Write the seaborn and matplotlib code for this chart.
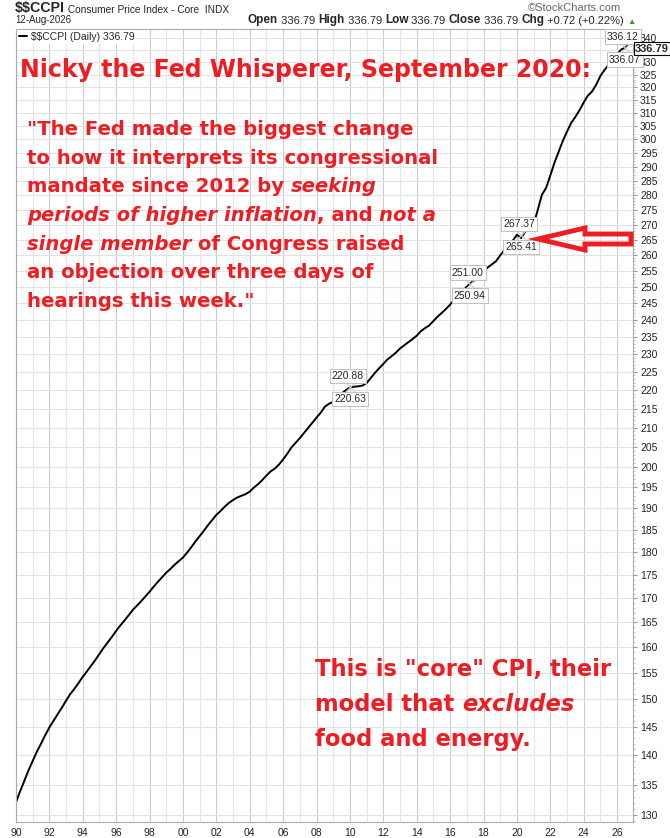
import matplotlib
matplotlib.use("Agg")
import pandas as pd
import numpy as np
import matplotlib.pyplot as plt
import matplotlib.dates as mdates
import seaborn as sns
from matplotlib.patches import Polygon
from matplotlib.ticker import FixedLocator, FuncFormatter, NullFormatter

# quarterly core CPI readings (Jan, Apr, Jul, Oct)
core_cpi = [
    132.1, 133.9, 135.6, 137.4,  # 1990
    139.0, 140.6, 142.0, 143.5,
    144.9, 146.1, 147.3, 148.5,
    149.8, 151.0, 152.0, 153.1,
    154.3, 155.3, 156.4, 157.5,
    158.7, 159.9, 161.0, 162.1,  # 1995
    163.3, 164.4, 165.4, 166.5,
    167.6, 168.5, 169.4, 170.4,
    171.4, 172.5, 173.5, 174.5,
    175.5, 176.3, 177.2, 178.0,
    178.8, 179.9, 181.1, 182.4,  # 2000
    183.6, 184.8, 186.1, 187.3,
    188.5, 189.4, 190.4, 191.3,
    192.0, 192.6, 193.0, 193.4,
    194.0, 195.0, 195.8, 196.8,
    197.9, 198.9, 199.6, 200.6,  # 2005
    201.9, 203.3, 204.9, 206.1,
    207.3, 208.6, 209.9, 211.3,
    212.6, 213.9, 215.5, 216.3,
    216.8, 217.8, 219.0, 219.9,
    220.7, 220.9, 221.0, 221.2,  # 2010
    221.9, 223.3, 224.7, 226.0,
    227.2, 228.5, 229.4, 230.4,
    231.6, 232.5, 233.4, 234.3,
    235.3, 236.6, 237.5, 238.3,
    239.6, 240.9, 242.0, 243.2,  # 2015
    244.5, 246.0, 247.4, 248.6,
    250.0, 251.2, 252.1, 253.2,
    254.6, 256.0, 257.0, 258.0,
    259.9, 261.6, 263.1, 264.6,
    266.6, 265.5, 267.6, 268.8,  # 2020
    270.0, 274.9, 280.1, 282.5,
    286.9, 291.4, 295.3, 299.4,
    302.9, 306.1, 308.4, 311.0,
    314.0, 316.7, 318.3, 321.0,
    324.5, 326.9, 329.0, 331.0,  # 2025
    333.3, 335.3, 336.07,
]
quarter_dates = pd.date_range("1990-01-01", "2026-07-01", freq="QS")
last_date = pd.Timestamp("2026-08-12")
last_close = 336.79

# swing high / low labels
hilo_dates = pd.to_datetime(["2010-01-01", "2017-03-01", "2020-04-01", "2026-06-20"])
hilo_high = [220.88, 251.00, 267.37, 336.12]
hilo_low = [220.63, 250.94, 265.41, 336.07]

y_ticks = np.arange(130, 345, 5)

title = "Nicky the Fed Whisperer, September 2020:"
quote_lines = [
    [('"The Fed made the biggest change', "normal")],
    [("to how it interprets its congressional", "normal")],
    [("mandate since 2012 by ", "normal"), ("seeking", "italic")],
    [("periods of higher inflation", "italic"), (", and ", "normal"), ("not a", "italic")],
    [("single member", "italic"), (" of Congress raised", "normal")],
    [("an objection over three days of", "normal")],
    [('hearings this week."', "normal")],
]
note_lines = [
    [('This is "core" CPI, their', "normal")],
    [("model that ", "normal"), ("excludes", "italic")],
    [("food and energy.", "normal")],
]

RED = "#ee1d24"
sns.set_style("white")
plt.rcParams["font.family"] = ["Liberation Sans", "DejaVu Sans"]

W, H = 670, 838
fig = plt.figure(figsize=(6.7, 8.38), dpi=100)


def fx(px):
    return px / W


def fy(py):
    return 1 - py / H


ax = fig.add_axes([fx(16), fy(822), fx(633) - fx(16), fy(29) - fy(822)])

df = pd.DataFrame({"date": list(quarter_dates) + [last_date],
                   "value": core_cpi + [last_close]})
sns.lineplot(data=df, x="date", y="value", ax=ax, color="black", lw=1.4,
             label="\\$\\$CCPI (Daily) 336.79")

ax.set_yscale("log")
ax.set_ylim(128.9, 343.9)
ax.set_xlim(pd.Timestamp("1990-01-01"), pd.Timestamp("2026-12-15"))
ax.set_xlabel("")
ax.set_ylabel("")

ax.yaxis.tick_right()
ax.yaxis.set_major_locator(FixedLocator(y_ticks))
# the 335 label sits under the last-price box
ax.yaxis.set_major_formatter(FuncFormatter(lambda v, p: "" if round(v) == 335 else f"{v:.0f}"))
ax.yaxis.set_minor_locator(FixedLocator(np.arange(129, 344)))
ax.yaxis.set_minor_formatter(NullFormatter())
ax.xaxis.set_major_locator(mdates.YearLocator(2))
ax.xaxis.set_major_formatter(mdates.DateFormatter("%y"))
ax.xaxis.set_minor_locator(mdates.YearLocator(1))

ax.tick_params(axis="y", which="major", length=3, pad=2, labelsize=7.5,
               color="#999999", labelcolor="#222222")
ax.tick_params(axis="y", which="minor", length=1.5, color="#bbbbbb")
ax.tick_params(axis="x", which="major", length=3, pad=1, labelsize=7.5,
               color="#999999", labelcolor="#222222")
ax.tick_params(axis="x", which="minor", length=0)

ax.grid(which="major", axis="x", color="#cccccc", lw=0.8)
ax.grid(which="minor", axis="x", color="#e6e6e6", lw=0.8)
ax.grid(which="major", axis="y", color="#e2e2e2", lw=0.8)
for s in ax.spines.values():
    s.set_color("#aaaaaa")
    s.set_linewidth(0.8)

leg = ax.legend(loc="upper left", fontsize=7.5, handlelength=0.8, handletextpad=0.4,
                borderaxespad=0.05, borderpad=0.2, frameon=True, fancybox=False)
leg.get_frame().set_edgecolor("none")
leg.get_frame().set_facecolor("white")
leg.get_frame().set_alpha(1)

# swing labels
for d, hi, lo in zip(hilo_dates, hilo_high, hilo_low):
    mid = np.sqrt(hi * lo)
    ax.plot([d], [mid], marker="x", ms=10, color="#cccccc", mew=0.8, zorder=3)
    box = dict(boxstyle="square,pad=0.2", fc="white", ec="#c0c0c0", lw=0.7)
    ax.annotate(f"{hi:.2f}", xy=(d, mid), xytext=(-2, 11), textcoords="offset pixels",
                ha="center", va="center", fontsize=7.5, bbox=box, zorder=4,
                annotation_clip=False)
    ax.annotate(f"{lo:.2f}", xy=(d, mid), xytext=(0, -12), textcoords="offset pixels",
                ha="center", va="center", fontsize=7.5, bbox=box, zorder=4,
                annotation_clip=False)

fig.text(fx(652), fy(48.5), f"{last_close:.2f}", ha="center", va="center", fontsize=8,
         fontweight="bold", zorder=10,
         bbox=dict(boxstyle="square,pad=0.1", fc="white", ec="black", lw=0.8))


def chain(x, y, parts, **common):
    t = fig.text(x, y, parts[0][0], va="baseline", **{**common, **parts[0][1]})
    for s, kw in parts[1:]:
        t = ax.annotate(s, xy=(1, 0), xycoords=t, va="bottom", ha="left",
                        **{**common, **kw})
    return t


# header
chain(fx(15), fy(12), [("\\$\\$CCPI", dict(fontsize=10.3, fontweight="bold")),
                       (" Consumer Price Index - Core  INDX", dict(fontsize=7.3))])
fig.text(fx(15), fy(23), "12-Aug-2026", fontsize=7, va="baseline")
fig.text(fx(621), fy(11), "\u00a9StockCharts.com", fontsize=8, ha="right",
         va="baseline", color="#666666")
B = dict(fontweight="bold", fontsize=8.5)
N = dict(fontsize=8)
chain(fx(248), fy(23), [("Open", B), (" 336.79 ", N), ("High", B), (" 336.79 ", N),
                        ("Low", B), (" 336.79 ", N), ("Close", B), (" 336.79 ", N),
                        ("Chg", B), (" +0.72 (+0.22%) ", N),
                        ("\u25b2", dict(fontsize=6, color="#2a9d2a"))])

# red commentary
txt = dict(color=RED, fontweight="bold", family=["DejaVu Sans"])
fig.text(fx(20), fy(77), title, fontsize=17.0, va="baseline", **txt)
for i, line in enumerate(quote_lines):
    chain(fx(27), fy(135 + i * 28.7),
          [(s, dict(fontstyle=st, fontsize=14.1)) for s, st in line], **txt)
for i, line in enumerate(note_lines):
    chain(fx(315), fy(676 + i * 35),
          [(s, dict(fontstyle=st, fontsize=16.3)) for s, st in line], **txt)

# hollow arrow pointing at the 2020 dip
arrow_px = [(538, 239), (585, 228), (585, 234), (631, 234), (631, 244), (585, 244), (585, 250)]
fig.patches.append(Polygon([(fx(a), fy(b)) for a, b in arrow_px], closed=True, fill=False,
                           ec=RED, lw=3.5, joinstyle="miter", transform=fig.transFigure,
                           figure=fig, zorder=6))

fig.savefig("out.png", dpi=100)
